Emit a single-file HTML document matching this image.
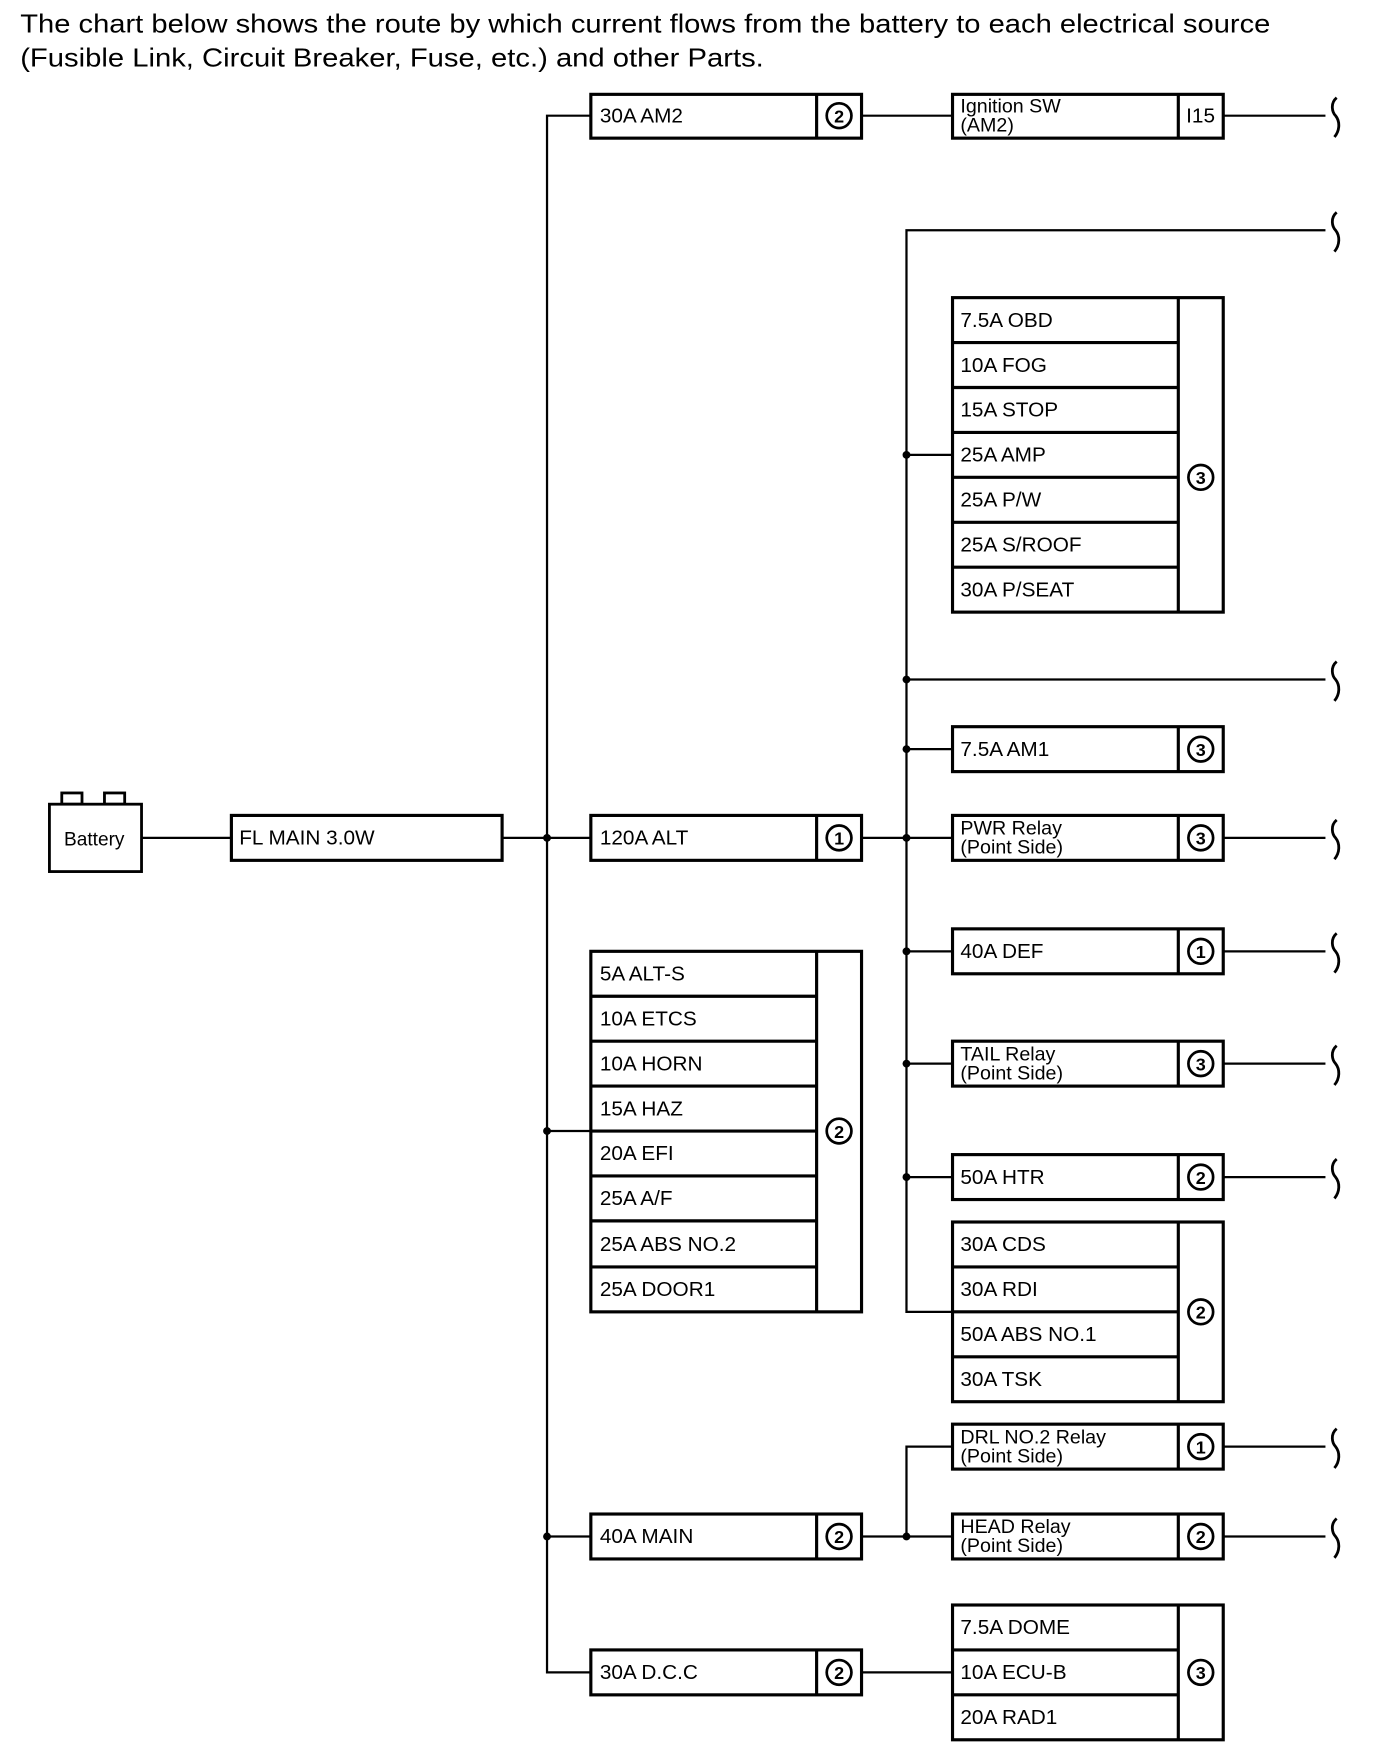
<!DOCTYPE html>
<html><head><meta charset="utf-8"><style>
html,body{margin:0;padding:0;background:#fff;}
svg{display:block;}
text{font-family:"Liberation Sans",Arial,sans-serif;fill:#000;}
</style></head><body>
<svg width="1376" height="1760" viewBox="0 0 1225 1567" preserveAspectRatio="none" xmlns="http://www.w3.org/2000/svg">
<defs>
<path id="sq" d="M0,-16 C-6,-11 -4,-3 -1,0 C3,5 3,13 -2,19" fill="none" stroke="#000" stroke-width="2.5"/>
</defs>
<text x="18" y="29" font-size="23" textLength="1113" lengthAdjust="spacingAndGlyphs">The chart below shows the route by which current flows from the battery to each electrical source</text>
<text x="18" y="59" font-size="23" textLength="662" lengthAdjust="spacingAndGlyphs">(Fusible Link, Circuit Breaker, Fuse, etc.) and other Parts.</text>

<g stroke="#000" stroke-width="2" fill="none">
<path d="M526,103 H487 V1489 H526"/>
<line x1="487" y1="1007" x2="526" y2="1007"/>
<line x1="487" y1="1368" x2="526" y2="1368"/>
<line x1="126" y1="746" x2="206" y2="746"/>
<line x1="447" y1="746" x2="526" y2="746"/>
<line x1="767" y1="103" x2="848" y2="103"/>
<line x1="767" y1="746" x2="848" y2="746"/>
<line x1="767" y1="1489" x2="848" y2="1489"/>
<path d="M1180,205 H807 V1168 H848"/>
<line x1="807" y1="405" x2="848" y2="405"/>
<line x1="807" y1="605" x2="1180" y2="605"/>
<line x1="807" y1="667" x2="848" y2="667"/>
<line x1="807" y1="847" x2="848" y2="847"/>
<line x1="807" y1="947" x2="848" y2="947"/>
<line x1="807" y1="1048" x2="848" y2="1048"/>
<line x1="767" y1="1368" x2="848" y2="1368"/>
<path d="M848,1288 H807 V1368"/>
<line x1="1089" y1="103" x2="1180" y2="103"/>
<line x1="1089" y1="746" x2="1180" y2="746"/>
<line x1="1089" y1="847" x2="1180" y2="847"/>
<line x1="1089" y1="947" x2="1180" y2="947"/>
<line x1="1089" y1="1048" x2="1180" y2="1048"/>
<line x1="1089" y1="1288" x2="1180" y2="1288"/>
<line x1="1089" y1="1368" x2="1180" y2="1368"/>
</g>
<g>
<use href="#sq" x="1190" y="103"/><use href="#sq" x="1190" y="205"/><use href="#sq" x="1190" y="605"/>
<use href="#sq" x="1190" y="746"/><use href="#sq" x="1190" y="847"/><use href="#sq" x="1190" y="947"/>
<use href="#sq" x="1190" y="1048"/><use href="#sq" x="1190" y="1288"/><use href="#sq" x="1190" y="1368"/>
</g>
<g fill="#000">
<circle cx="487" cy="746" r="3.5"/><circle cx="487" cy="1007" r="3.5"/><circle cx="487" cy="1368" r="3.5"/>
<circle cx="807" cy="405" r="3.5"/><circle cx="807" cy="605" r="3.5"/><circle cx="807" cy="667" r="3.5"/>
<circle cx="807" cy="746" r="3.5"/><circle cx="807" cy="847" r="3.5"/><circle cx="807" cy="947" r="3.5"/>
<circle cx="807" cy="1048" r="3.5"/><circle cx="807" cy="1368" r="3.5"/>
</g>

<g stroke="#000" stroke-width="2.5" fill="#fff">
<rect x="55" y="706" width="18" height="10"/><rect x="93" y="706" width="18" height="10"/>
<rect x="44" y="716" width="82" height="60"/>
</g>
<text x="57" y="753" font-size="17">Battery</text>

<g stroke="#000" stroke-width="2.8" fill="none">
<rect x="206" y="726" width="241" height="40"/>
<rect x="526" y="84" width="241" height="39"/><line x1="727" y1="84" x2="727" y2="123"/>
<rect x="848" y="84" width="241" height="39"/><line x1="1049" y1="84" x2="1049" y2="123"/>
<rect x="526" y="726" width="241" height="40"/><line x1="727" y1="726" x2="727" y2="766"/>
<rect x="526" y="1348" width="241" height="40"/><line x1="727" y1="1348" x2="727" y2="1388"/>
<rect x="526" y="1469" width="241" height="40"/><line x1="727" y1="1469" x2="727" y2="1509"/>
<rect x="848" y="647" width="241" height="40"/><line x1="1049" y1="647" x2="1049" y2="687"/>
<rect x="848" y="726" width="241" height="40"/><line x1="1049" y1="726" x2="1049" y2="766"/>
<rect x="848" y="827" width="241" height="40"/><line x1="1049" y1="827" x2="1049" y2="867"/>
<rect x="848" y="927" width="241" height="40"/><line x1="1049" y1="927" x2="1049" y2="967"/>
<rect x="848" y="1028" width="241" height="40"/><line x1="1049" y1="1028" x2="1049" y2="1068"/>
<rect x="848" y="1268" width="241" height="40"/><line x1="1049" y1="1268" x2="1049" y2="1308"/>
<rect x="848" y="1348" width="241" height="40"/><line x1="1049" y1="1348" x2="1049" y2="1388"/>
<rect x="848" y="265" width="241" height="280"/><line x1="1049" y1="265" x2="1049" y2="545"/>
<path d="M848,305 H1049 M848,345 H1049 M848,385 H1049 M848,425 H1049 M848,465 H1049 M848,505 H1049"/>
<rect x="526" y="847" width="241" height="321"/><line x1="727" y1="847" x2="727" y2="1168"/>
<path d="M526,887 H727 M526,927 H727 M526,967 H727 M526,1007 H727 M526,1047 H727 M526,1087 H727 M526,1128 H727"/>
<rect x="848" y="1088" width="241" height="160"/><line x1="1049" y1="1088" x2="1049" y2="1248"/>
<path d="M848,1128 H1049 M848,1168 H1049 M848,1208 H1049"/>
<rect x="848" y="1429" width="241" height="120"/><line x1="1049" y1="1429" x2="1049" y2="1549"/>
<path d="M848,1469 H1049 M848,1509 H1049"/>
</g>

<g stroke="#000" stroke-width="2.4" fill="none">
<circle cx="747" cy="103" r="11"/><circle cx="747" cy="746" r="11"/><circle cx="747" cy="1007" r="11"/>
<circle cx="747" cy="1368" r="11"/><circle cx="747" cy="1489" r="11"/>
<circle cx="1069" cy="425" r="11"/><circle cx="1069" cy="667" r="11"/><circle cx="1069" cy="746" r="11"/>
<circle cx="1069" cy="847" r="11"/><circle cx="1069" cy="947" r="11"/><circle cx="1069" cy="1048" r="11"/>
<circle cx="1069" cy="1168" r="11"/><circle cx="1069" cy="1288" r="11"/><circle cx="1069" cy="1368" r="11"/>
<circle cx="1069" cy="1489" r="11"/>
</g>
<g font-size="16" font-weight="bold" text-anchor="middle">
<text x="747" y="109">2</text><text x="747" y="752">1</text><text x="747" y="1013">2</text>
<text x="747" y="1374">2</text><text x="747" y="1495">2</text>
<text x="1069" y="431">3</text><text x="1069" y="673">3</text><text x="1069" y="752">3</text>
<text x="1069" y="853">1</text><text x="1069" y="953">3</text><text x="1069" y="1054">2</text>
<text x="1069" y="1174">2</text><text x="1069" y="1294">1</text><text x="1069" y="1374">2</text>
<text x="1069" y="1495">3</text>
</g>

<g font-size="18.5">
<text x="213" y="752">FL MAIN 3.0W</text>
<text x="534" y="109">30A AM2</text>
<text x="1056" y="109">I15</text>
<text x="534" y="752">120A ALT</text>
<text x="534" y="1374">40A MAIN</text>
<text x="534" y="1495">30A D.C.C</text>
<text x="855" y="291">7.5A OBD</text>
<text x="855" y="331">10A FOG</text>
<text x="855" y="371">15A STOP</text>
<text x="855" y="411">25A AMP</text>
<text x="855" y="451">25A P/W</text>
<text x="855" y="491">25A S/ROOF</text>
<text x="855" y="531">30A P/SEAT</text>
<text x="855" y="673">7.5A AM1</text>
<text x="855" y="853">40A DEF</text>
<text x="855" y="1054">50A HTR</text>
<text x="534" y="873">5A ALT-S</text>
<text x="534" y="913">10A ETCS</text>
<text x="534" y="953">10A HORN</text>
<text x="534" y="993">15A HAZ</text>
<text x="534" y="1033">20A EFI</text>
<text x="534" y="1073">25A A/F</text>
<text x="534" y="1114">25A ABS NO.2</text>
<text x="534" y="1154">25A DOOR1</text>
<text x="855" y="1114">30A CDS</text>
<text x="855" y="1154">30A RDI</text>
<text x="855" y="1194">50A ABS NO.1</text>
<text x="855" y="1234">30A TSK</text>
<text x="855" y="1455">7.5A DOME</text>
<text x="855" y="1495">10A ECU-B</text>
<text x="855" y="1535">20A RAD1</text>
</g>
<g font-size="17.5">
<text x="855" y="100">Ignition SW</text><text x="855" y="117">(AM2)</text>
<text x="855" y="743">PWR Relay</text><text x="855" y="760">(Point Side)</text>
<text x="855" y="944">TAIL Relay</text><text x="855" y="961">(Point Side)</text>
<text x="855" y="1285">DRL NO.2 Relay</text><text x="855" y="1302">(Point Side)</text>
<text x="855" y="1365">HEAD Relay</text><text x="855" y="1382">(Point Side)</text>
</g>
</svg>
</body></html>
